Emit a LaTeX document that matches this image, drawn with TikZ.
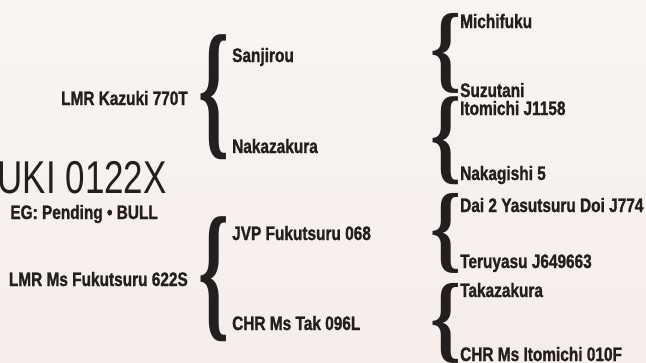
\documentclass[tikz,border=0pt]{standalone}
\usepackage{graphicx}
\usepackage{fontspec}
\setmainfont{Liberation Sans}[FakeStretch=0.79,BoldFeatures={FakeBold=1.2}]
\newfontfamily\titlefont{Liberation Sans}[FakeStretch=0.76]
\newfontfamily\bracefont{Liberation Serif}
\definecolor{pdink}{RGB}{35,31,32}
\definecolor{pdpaper}{RGB}{248,245,242}
\definecolor{pdblush}{RGB}{246,237,235}
\newcommand{\pdbrace}[1]{\resizebox*{31pt}{#1}{\bracefont\bfseries\{}}

\begin{document}
\begin{tikzpicture}[x=1pt,y=-1pt,
    lvl/.style={font=\bfseries\fontsize{19.5}{21}\selectfont,text=pdink,inner sep=0pt},
    brace/.style={inner sep=0pt,outer sep=0pt,anchor=north west,text=pdink}]
  \useasboundingbox (0,0) rectangle (646,362);
  \clip (0,0) rectangle (646,362);
  \shade[top color=pdpaper,bottom color=pdblush] (0,0) rectangle (646,362);

  % calf
  \node[anchor=base east,inner sep=0pt,text=pdink,
        font=\titlefont\fontsize{46}{48}\selectfont] (calf) at (167,193) {UKI 0122X};
  \node[lvl,anchor=base east] (calfreg) at (158,219) {EG: Pending • BULL};

  % sire and dam
  \node[lvl,anchor=base east] (sire) at (188,105) {LMR Kazuki 770T};
  \node[lvl,anchor=base east] (dam) at (188,286) {LMR Ms Fukutsuru 622S};
  \node[brace] (sirebrace) at (198,35) {\pdbrace{125pt}};
  \node[brace] (dambrace) at (198,217) {\pdbrace{125pt}};

  % grandparents
  \node[lvl,anchor=base west] (ss) at (232,62) {Sanjirou};
  \node[lvl,anchor=base west] (sd) at (232,153) {Nakazakura};
  \node[lvl,anchor=base west] (ds) at (232,240) {JVP Fukutsuru 068};
  \node[lvl,anchor=base west] (dd) at (232,330) {CHR Ms Tak 096L};
  \node[brace] (ssbrace) at (430,13) {\pdbrace{80pt}};
  \node[brace] (sdbrace) at (430,97) {\pdbrace{88pt}};
  \node[brace] (dsbrace) at (430,193) {\pdbrace{80pt}};
  \node[brace] (ddbrace) at (430,283) {\pdbrace{80pt}};

  % great-grandparents
  \node[lvl,anchor=base west] (sss) at (460,28) {Michifuku};
  \node[lvl,anchor=base west] (ssd) at (460,97) {Suzutani};
  \node[lvl,anchor=base west] (sds) at (460,115) {Itomichi J1158};
  \node[lvl,anchor=base west] (sdd) at (460,180) {Nakagishi 5};
  \node[lvl,anchor=base west] (dss) at (460,212) {Dai 2 Yasutsuru Doi J774};
  \node[lvl,anchor=base west] (dsd) at (460,268) {Teruyasu J649663};
  \node[lvl,anchor=base west] (dds) at (460,297) {Takazakura};
  \node[lvl,anchor=base west] (ddd) at (460,361) {CHR Ms Itomichi 010F};
\end{tikzpicture}
\end{document}
